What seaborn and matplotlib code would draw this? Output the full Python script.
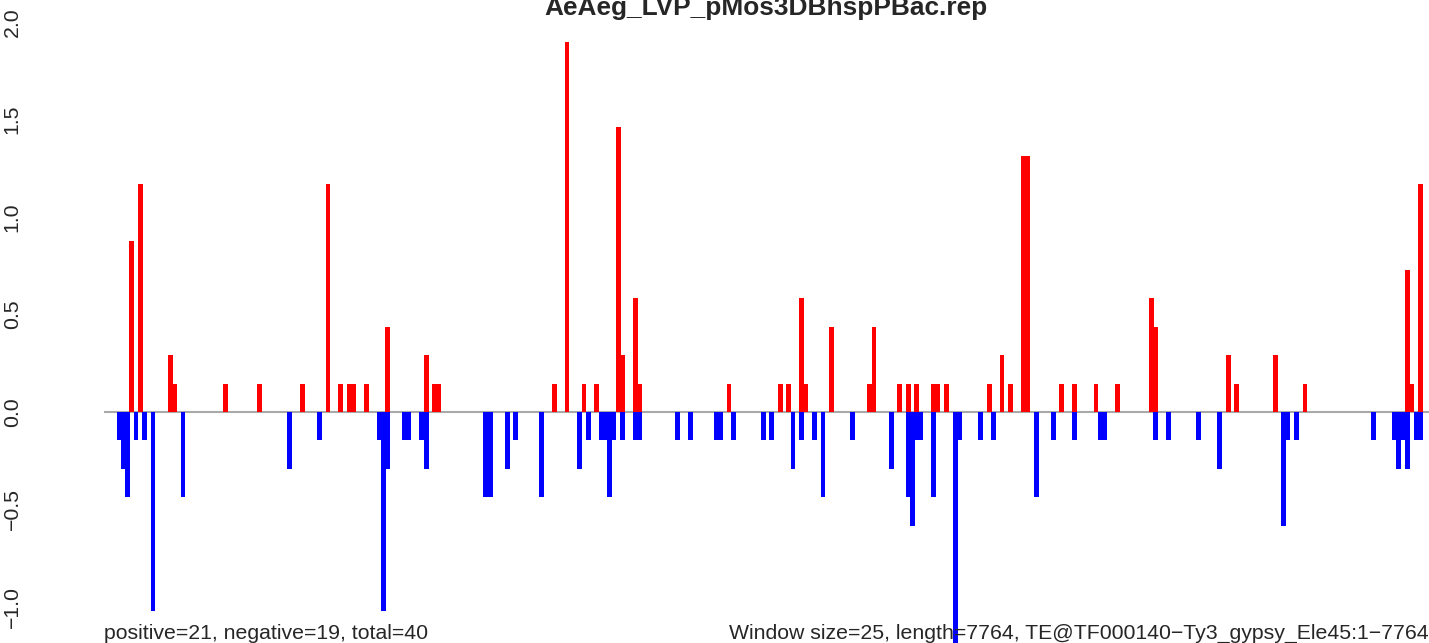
import numpy as np
import pandas as pd
import matplotlib
matplotlib.use("Agg")
import matplotlib.pyplot as plt
import seaborn as sns

# window size and sequence length (bp)
window = 25
length = 7764

# window index of each bar and its height
pos_idx = [6, 8, 15, 16, 28, 36, 46, 52, 55, 57, 58, 61, 66, 75, 77, 78,
           105, 108, 112, 115, 120, 121, 124, 125, 146, 158, 160, 163, 164,
           170, 179, 180, 186, 188, 190, 194, 195, 197, 207, 210, 212, 215,
           216, 224, 227, 232, 237, 245, 246, 263, 265, 274, 281, 305, 306, 308]
pos_val = [0.876, 1.168, 0.292, 0.146, 0.146, 0.146, 0.146, 1.168, 0.146, 0.146,
           0.146, 0.146, 0.438, 0.292, 0.146, 0.146,
           0.146, 1.898, 0.146, 0.146, 1.460, 0.292, 0.584, 0.146, 0.146, 0.146,
           0.146, 0.584, 0.146,
           0.438, 0.146, 0.438, 0.146, 0.146, 0.146, 0.146, 0.146, 0.146, 0.146,
           0.292, 0.146, 1.314,
           1.314, 0.146, 0.146, 0.146, 0.146, 0.584, 0.438, 0.292, 0.146, 0.292,
           0.146, 0.730, 0.146, 1.168]

neg_idx = [3, 4, 5, 7, 9, 11, 18, 43, 50, 64, 65, 66, 70, 71, 74, 75, 89, 90,
           94, 96, 102, 111, 113, 116, 117, 118, 119, 121, 124, 125, 134, 137,
           143, 144, 147, 154, 156, 161, 163, 166, 168, 175, 184, 188, 189, 190,
           191, 194, 199, 200, 205, 208, 218, 222, 227, 233, 234, 246, 249, 256,
           261, 276, 277, 279, 297, 302, 303, 304, 305, 307, 308]
neg_val = [-0.146, -0.292, -0.438, -0.146, -0.146, -1.022, -0.438, -0.292, -0.146,
           -0.146, -1.022, -0.292, -0.146, -0.146, -0.146, -0.292, -0.438, -0.438,
           -0.292, -0.146, -0.438, -0.292, -0.146, -0.146, -0.146, -0.438, -0.146,
           -0.146, -0.146, -0.146, -0.146, -0.146,
           -0.146, -0.146, -0.146, -0.146, -0.146, -0.292, -0.146, -0.146, -0.438,
           -0.146, -0.292, -0.438, -0.584, -0.146,
           -0.146, -0.438, -1.314, -0.146, -0.146, -0.146, -0.438, -0.146, -0.146,
           -0.146, -0.146, -0.146, -0.146, -0.146,
           -0.292, -0.584, -0.146, -0.146, -0.146, -0.146, -0.292, -0.146, -0.292,
           -0.146, -0.146]

ytick_vals = [-1.0, -0.5, 0.0, 0.5, 1.0, 1.5, 2.0]
ytick_text = ["\u22121.0", "\u22120.5", "0.0", "0.5", "1.0", "1.5", "2.0"]

title = "AeAeg_LVP_pMos3DBhspPBac.rep"
left_note = "positive=21, negative=19, total=40"
right_note = "Window size=25, length=7764, TE@TF000140\u2212Ty3_gypsy_Ele45:1\u22127764"

pos = pd.DataFrame({"x": np.array(pos_idx) * window + window / 2, "y": pos_val})
neg = pd.DataFrame({"x": np.array(neg_idx) * window + window / 2, "y": neg_val})

sns.set_style("white")
plt.rcParams["font.family"] = ["Liberation Sans", "DejaVu Sans"]

W, H = 1429, 643
fig = plt.figure(figsize=(W / 100, H / 100), dpi=100)
ax = fig.add_axes([104 / W, 0, 1325 / W, 1])

ax.plot([0, length], [0, 0], color="#a9a9a9", lw=1.5, zorder=0)
sns.barplot(data=neg, x="x", y="y", native_scale=True, width=1.12, color="blue",
            saturation=1, linewidth=0, errorbar=None, ax=ax)
sns.barplot(data=pos, x="x", y="y", native_scale=True, width=1.12, color="red",
            saturation=1, linewidth=0, errorbar=None, ax=ax)

ax.set_xlim(0, length)
ax.set_ylim(-(H - 412) / 195, 412 / 195)
ax.set_xlabel("")
ax.set_ylabel("")
ax.set_xticks([])
ax.set_yticks(ytick_vals)
ax.set_yticklabels(ytick_text, rotation=90, va="center", ha="center", fontsize=15.3)
ax.tick_params(axis="y", length=0, pad=66)
for s in ax.spines.values():
    s.set_visible(False)
ax.patch.set_alpha(0)

fig.text(766 / W, 1 - 15 / H, title, ha="center", va="baseline",
         fontsize=18.9, fontweight="bold")
fig.text(104 / W, 1 - 639 / H, left_note, ha="left", va="baseline", fontsize=15.3)
fig.text(1.0, 1 - 639 / H, right_note, ha="right", va="baseline", fontsize=15.3)

fig.savefig("out.png", dpi=100)
